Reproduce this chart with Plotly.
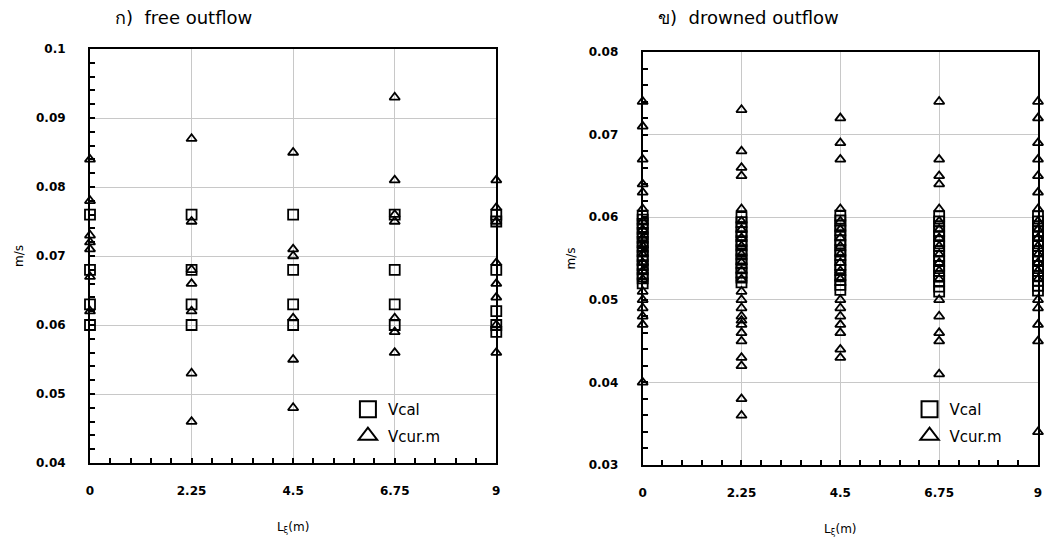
import plotly.graph_objects as go

# ---------------- data ----------------
# (a) free outflow
free_x_cal = [0]*4 + [2.25]*4 + [4.5]*4 + [6.75]*4 + [9]*6
free_vcal = [0.076, 0.068, 0.063, 0.060,
             0.076, 0.068, 0.063, 0.060,
             0.076, 0.068, 0.063, 0.060,
             0.076, 0.068, 0.063, 0.060,
             0.076, 0.075, 0.068, 0.062, 0.060, 0.059]
free_x_cur = [0]*7 + [2.25]*7 + [4.5]*6 + [6.75]*7 + [9]*8
free_vcur = [0.084, 0.078, 0.073, 0.072, 0.071, 0.067, 0.062,
             0.087, 0.075, 0.068, 0.066, 0.062, 0.053, 0.046,
             0.085, 0.071, 0.070, 0.061, 0.055, 0.048,
             0.093, 0.081, 0.076, 0.075, 0.061, 0.059, 0.056,
             0.081, 0.077, 0.075, 0.069, 0.066, 0.064, 0.060, 0.056]

# (b) drowned outflow
drown_vcal_0 = [0.0520, 0.0526, 0.0531, 0.0537, 0.0542, 0.0548, 0.0553, 0.0559,
                0.0564, 0.0570, 0.0575, 0.0581, 0.0586, 0.0592, 0.0597, 0.0602]
drown_vcal_225 = [0.0521, 0.0527, 0.0533, 0.0538, 0.0544, 0.0549, 0.0555, 0.0560,
                  0.0566, 0.0571, 0.0577, 0.0582, 0.0588, 0.0594, 0.0600]
drown_vcal_45 = [0.0512, 0.0518, 0.0524, 0.0530, 0.0536, 0.0542, 0.0548, 0.0554,
                 0.0560, 0.0566, 0.0572, 0.0578, 0.0584, 0.0590, 0.0596, 0.0602]
drown_vcal_675 = [0.0510, 0.0516, 0.0523, 0.0529, 0.0535, 0.0541, 0.0547, 0.0553,
                  0.0559, 0.0565, 0.0571, 0.0577, 0.0583, 0.0589, 0.0595, 0.0601]
drown_vcal_9 = [0.0511, 0.0517, 0.0523, 0.0529, 0.0535, 0.0541, 0.0547, 0.0553,
                0.0559, 0.0565, 0.0571, 0.0577, 0.0583, 0.0589, 0.0595, 0.0601]

drown_vcur_0 = [0.074, 0.071, 0.067, 0.064, 0.063, 0.061,
                0.0595, 0.0585, 0.0575, 0.0565, 0.0555, 0.0545, 0.0535, 0.0525,
                0.051, 0.050, 0.049, 0.048, 0.047, 0.040]
drown_vcur_225 = [0.073, 0.068, 0.066, 0.065, 0.061,
                  0.0595, 0.0585, 0.0575, 0.0565, 0.0555, 0.0545, 0.0535, 0.0525,
                  0.051, 0.050, 0.049, 0.048, 0.0475, 0.047, 0.046, 0.045,
                  0.043, 0.042, 0.038, 0.036]
drown_vcur_45 = [0.072, 0.069, 0.067, 0.061,
                 0.0595, 0.0585, 0.0575, 0.0565, 0.0555, 0.0545, 0.0535, 0.0525,
                 0.050, 0.049, 0.048, 0.047, 0.046, 0.044, 0.043]
drown_vcur_675 = [0.074, 0.067, 0.065, 0.064, 0.061,
                  0.0595, 0.0585, 0.0575, 0.0565, 0.0555, 0.0545, 0.0535, 0.0525,
                  0.050, 0.048, 0.046, 0.045, 0.041]
drown_vcur_9 = [0.074, 0.072, 0.069, 0.067, 0.065, 0.063, 0.061,
                0.0595, 0.0585, 0.0575, 0.0565, 0.0555, 0.0545, 0.0535, 0.0525,
                0.050, 0.049, 0.047, 0.045, 0.034]

L_positions = [0, 2.25, 4.5, 6.75, 9]
drown_vcal = [drown_vcal_0, drown_vcal_225, drown_vcal_45, drown_vcal_675, drown_vcal_9]
drown_vcur = [drown_vcur_0, drown_vcur_225, drown_vcur_45, drown_vcur_675, drown_vcur_9]

panel_titles = ["ก)  free outflow", "ข)  drowned outflow"]
x_title = "L<sub>ξ</sub>(m)"
y_title = "m/s"

# ---------------- figure ----------------
sq = dict(symbol="square-open", size=10, color="black", line=dict(width=1.8, color="black"))
tri = dict(symbol="triangle-up-open", size=9, color="black", line=dict(width=1.8, color="black"))

fig = go.Figure()

# free outflow
fig.add_trace(go.Scatter(x=free_x_cal, y=free_vcal, mode="markers", marker=sq,
                         showlegend=False, xaxis="x", yaxis="y", cliponaxis=False))
fig.add_trace(go.Scatter(x=free_x_cur, y=free_vcur, mode="markers", marker=tri,
                         showlegend=False, xaxis="x", yaxis="y", cliponaxis=False))

# drowned outflow
dx_cal, dy_cal, dx_cur, dy_cur = [], [], [], []
for L, vc, vm in zip(L_positions, drown_vcal, drown_vcur):
    dx_cal += [L]*len(vc); dy_cal += vc
    dx_cur += [L]*len(vm); dy_cur += vm
fig.add_trace(go.Scatter(x=dx_cal, y=dy_cal, mode="markers", marker=sq,
                         showlegend=False, xaxis="x2", yaxis="y2", cliponaxis=False))
fig.add_trace(go.Scatter(x=dx_cur, y=dy_cur, mode="markers", marker=tri,
                         showlegend=False, xaxis="x2", yaxis="y2", cliponaxis=False))

# legend entries (larger symbols)
for leg in ["legend", "legend2"]:
    fig.add_trace(go.Scatter(x=[None], y=[None], mode="markers", name="Vcal", legend=leg,
                             legendgroup=leg + "a",
                             marker=dict(symbol="square-open", size=16, color="black",
                                         line=dict(width=2, color="black"))))
    fig.add_trace(go.Scatter(x=[None], y=[None], mode="markers", name="Vcur.m", legend=leg,
                             legendgroup=leg + "b",
                             marker=dict(symbol="triangle-up-open", size=16, color="black",
                                         line=dict(width=2, color="black"))))

W, H = 1047, 541
ml, mt = 90, 49
plot_right = 1042
plot_bottom = 465
mr = W - plot_right
mb = H - plot_bottom
pw = W - ml - mr
ph = H - mt - mb

def px_x(p):
    return (p - ml) / pw

def px_y(p):
    return (plot_bottom - p) / ph

tickfont = dict(family="DejaVu Sans", size=12, color="black", weight="bold")
common_x = dict(range=[0, 9], tick0=0, dtick=2.25, ticks="inside", ticklen=5, tickwidth=1.5,
                tickcolor="black", showline=True, linecolor="black", linewidth=2, mirror=True,
                showgrid=True, gridcolor="#c8c8c8", gridwidth=1, zeroline=False,
                tickfont=tickfont, ticklabelstandoff=16,
                minor=dict(ticks="inside", ticklen=5, dtick=0.45, tickwidth=1.5, tickcolor="black", showgrid=False),
                title=dict(text=x_title, font=dict(family="DejaVu Sans", size=12, color="black"), standoff=25))
common_y = dict(ticks="inside", ticklen=5, tickwidth=1.5, tickcolor="black", showline=True,
                linecolor="black", linewidth=2, mirror=True, showgrid=True, gridcolor="#c8c8c8",
                gridwidth=1, zeroline=False, tickfont=tickfont, ticklabelstandoff=20,
                title=dict(text=y_title, font=dict(family="DejaVu Sans", size=12, color="black"), standoff=10))

fig.update_layout(
    width=W, height=H, margin=dict(l=ml, r=mr, t=mt, b=mb),
    plot_bgcolor="white", paper_bgcolor="white",
    xaxis=dict(domain=[0, px_x(498)], anchor="y", **common_x),
    yaxis=dict(domain=[px_y(463), 1.0], anchor="x", range=[0.04, 0.1], dtick=0.01, tick0=0.04,
               minor=dict(ticks="inside", ticklen=5, dtick=0.002, tickwidth=1.5, tickcolor="black", showgrid=False),
               **common_y),
    xaxis2=dict(domain=[px_x(645), 1.0], anchor="y2", **common_x),
    yaxis2=dict(domain=[0.0, px_y(52)], anchor="x2", range=[0.03, 0.08], dtick=0.01, tick0=0.03,
                minor=dict(ticks="inside", ticklen=5, dtick=0.002, tickwidth=1.5, tickcolor="black", showgrid=False),
                **common_y),
    legend=dict(x=px_x(349), y=px_y(393), xanchor="left", yanchor="top", bgcolor="rgba(0,0,0,0)",
                font=dict(family="DejaVu Sans", size=15, color="black"), tracegroupgap=4,
                itemsizing="trace"),
    legend2=dict(x=px_x(913), y=px_y(393), xanchor="left", yanchor="top", bgcolor="rgba(0,0,0,0)",
                 font=dict(family="DejaVu Sans", size=15, color="black"), tracegroupgap=4,
                 itemsizing="trace"),
    annotations=[
        dict(text=panel_titles[0], xref="paper", yref="paper", x=px_x(113), y=px_y(18),
             xanchor="left", yanchor="middle", showarrow=False,
             font=dict(family="DejaVu Sans", size=18, color="black")),
        dict(text=panel_titles[1], xref="paper", yref="paper", x=px_x(658), y=px_y(18),
             xanchor="left", yanchor="middle", showarrow=False,
             font=dict(family="DejaVu Sans", size=18, color="black")),
    ],
)

fig.write_html("out.html", config={"displayModeBar": False},
               post_script="document.body.style.margin='0';document.body.style.overflow='hidden';")
